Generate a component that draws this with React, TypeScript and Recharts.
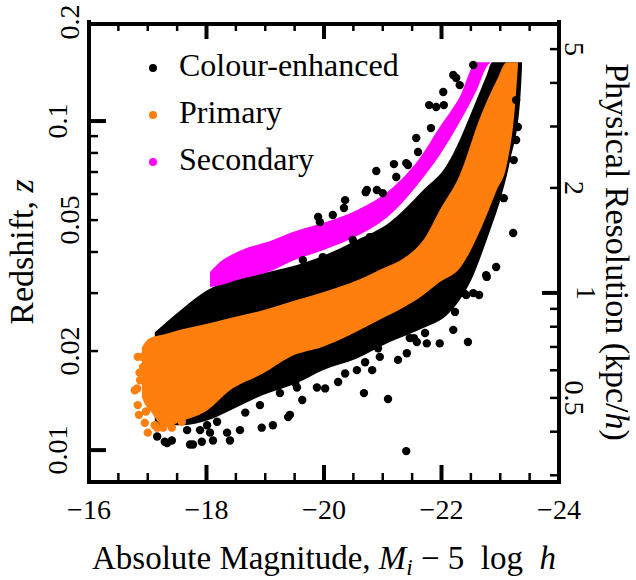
import React from "react";
import { ComposedChart, Area, Scatter, Line, XAxis, YAxis, Legend, Label } from "recharts";

const FONT = '"Liberation Serif", "DejaVu Serif", serif';
const ORANGE = "#ff7f0e";
const MAGENTA = "#ff00ff";
const INK = "#000000";

// absolute magnitude, bright end on the right
const magTicks = [-16, -16.5, -17, -17.5, -18, -18.5, -19, -19.5, -20, -20.5, -21, -21.5, -22, -22.5, -23, -23.5, -24];
const magLabels = [-16, -18, -20, -22, -24];
const magRange = [-16, -24];

// redshift (left, log)
const zTicks = [0.01, 0.02, 0.03, 0.04, 0.05, 0.06, 0.07, 0.08, 0.09, 0.1, 0.2];
const zMajor = [0.01, 0.1];
const zLabels = [0.01, 0.02, 0.05, 0.1, 0.2];
const zRange = [0.008, 0.2];

// physical resolution in kpc/h (right, log)
const resTicks = [0.3, 0.4, 0.5, 0.6, 0.7, 0.8, 0.9, 1, 2, 3, 4, 5];
const resMajor = [1];
const resLabels = [0.5, 1, 2, 5];
const resRange = [0.287, 5.98];

// dense part of each sample: [M, z low, z high]
const colourBand = [
  [-17.12, 0.0119, 0.0228],
  [-17.6, 0.0119, 0.027],
  [-18.01, 0.0123, 0.0306],
  [-18.4, 0.0132, 0.0329],
  [-18.96, 0.0147, 0.0345],
  [-19.54, 0.016, 0.0365],
  [-19.98, 0.0175, 0.0389],
  [-20.56, 0.019, 0.0435],
  [-21.12, 0.0213, 0.0493],
  [-21.69, 0.0235, 0.0617],
  [-22.09, 0.0257, 0.0735],
  [-22.31, 0.0286, 0.0876],
  [-22.49, 0.0324, 0.1043],
  [-22.77, 0.0435, 0.138],
  [-22.86, 0.0483, 0.151],
  [-23.0, 0.0575, 0.151],
  [-23.17, 0.0761, 0.151],
  [-23.34, 0.1158, 0.151],
  [-23.37, 0.145, 0.151],
];

const primaryBand = [
  [-16.9, 0.0145, 0.0205],
  [-16.95, 0.0138, 0.0212],
  [-17.04, 0.0132, 0.0219],
  [-17.29, 0.0117, 0.0225],
  [-17.55, 0.0122, 0.0232],
  [-18.01, 0.0132, 0.0242],
  [-18.4, 0.0152, 0.0252],
  [-18.96, 0.0171, 0.0266],
  [-19.42, 0.0192, 0.0282],
  [-19.98, 0.0206, 0.0302],
  [-20.83, 0.0243, 0.0345],
  [-21.69, 0.0296, 0.0435],
  [-21.97, 0.0324, 0.0536],
  [-22.31, 0.0357, 0.0685],
  [-22.66, 0.0466, 0.1028],
  [-22.94, 0.0617, 0.133],
  [-23.11, 0.0735, 0.151],
  [-23.25, 0.1103, 0.151],
  [-23.3, 0.146, 0.151],
];

const secondaryBand = [
  [-18.06, 0.0313, 0.0348],
  [-18.23, 0.0317, 0.0373],
  [-18.52, 0.0329, 0.04],
  [-19.13, 0.0352, 0.0435],
  [-19.42, 0.0373, 0.0457],
  [-19.98, 0.0405, 0.049],
  [-20.56, 0.0447, 0.0536],
  [-21.12, 0.0518, 0.0617],
  [-21.63, 0.0653, 0.0772],
  [-21.97, 0.0788, 0.0959],
  [-22.31, 0.0993, 0.1183],
  [-22.6, 0.1242, 0.151],
  [-22.79, 0.148, 0.151],
  [-22.83, 0.15, 0.151],
];

// scattered galaxies outside the dense bands: [M, z]
const colourPoints = [
  [-17.16, 0.011], [-17.29, 0.0106], [-17.33, 0.0105], [-17.41, 0.0107], [-17.67, 0.0115],
  [-17.72, 0.0104], [-17.77, 0.0104], [-17.89, 0.0115], [-17.92, 0.0106], [-18.01, 0.0119],
  [-18.06, 0.0113], [-18.11, 0.0107], [-18.18, 0.0122], [-18.35, 0.0113], [-18.4, 0.0107],
  [-18.57, 0.0115], [-18.66, 0.013], [-18.91, 0.0137], [-18.94, 0.0117], [-19.13, 0.0119],
  [-19.25, 0.0149], [-19.39, 0.0126], [-19.42, 0.0128], [-19.51, 0.016], [-19.54, 0.0155],
  [-19.63, 0.0142], [-19.88, 0.0155], [-20.02, 0.0154], [-20.24, 0.0161], [-20.36, 0.0171],
  [-20.56, 0.0175], [-20.68, 0.0149], [-20.7, 0.0185], [-20.82, 0.0175], [-20.92, 0.0204],
  [-20.95, 0.0192], [-21.09, 0.0143], [-21.26, 0.0188], [-21.4, 0.00993], [-21.41, 0.0197],
  [-21.46, 0.0219], [-21.53, 0.0219], [-21.58, 0.0213], [-21.72, 0.0227], [-21.75, 0.0211],
  [-21.92, 0.0261], [-21.97, 0.0211], [-22.2, 0.0232], [-22.23, 0.0263], [-22.38, 0.03],
  [-22.42, 0.0296], [-22.45, 0.0213], [-22.54, 0.03], [-22.64, 0.0296], [-22.76, 0.034],
  [-22.77, 0.0336], [-22.93, 0.036], [-23.06, 0.0583], [-23.22, 0.0457], [-23.23, 0.0761],
  [-23.27, 0.0876], [-23.27, 0.1158], [-23.3, 0.0959],
  [-19.64, 0.0378], [-19.9, 0.0511], [-19.93, 0.0493], [-19.98, 0.0386], [-20.15, 0.0518],
  [-20.27, 0.0386], [-20.34, 0.0544], [-20.36, 0.0575], [-20.49, 0.0435], [-20.56, 0.0414],
  [-20.71, 0.0608], [-20.73, 0.0617], [-20.78, 0.0444], [-20.89, 0.0705], [-20.9, 0.0617],
  [-21.0, 0.0457], [-21.0, 0.0604], [-21.19, 0.074], [-21.23, 0.0676], [-21.29, 0.0493],
  [-21.4, 0.0745], [-21.43, 0.0735], [-21.57, 0.0888], [-21.6, 0.0805], [-21.79, 0.1118],
  [-21.82, 0.0952], [-21.91, 0.1103], [-22.03, 0.1225], [-22.04, 0.1118], [-22.2, 0.138],
  [-22.25, 0.1351], [-22.31, 0.1286], [-22.54, 0.148],
];

const primaryPoints = [
  [-16.78, 0.0152], [-16.82, 0.0154], [-16.83, 0.0137], [-16.83, 0.0192], [-16.87, 0.0163],
  [-16.9, 0.0192], [-16.92, 0.0179], [-16.95, 0.0121], [-16.99, 0.0145], [-17.0, 0.0113],
  [-16.86, 0.0172], [-16.85, 0.0128], [-16.97, 0.0131],
  [-17.12, 0.0119], [-17.16, 0.0117], [-17.26, 0.0117], [-17.41, 0.0117], [-17.58, 0.0122],
];

const legendItems = [
  { name: "Colour-enhanced", color: INK },
  { name: "Primary", color: ORANGE },
  { name: "Secondary", color: MAGENTA },
];

const toRange = (rows: number[][]) => rows.map(([m, lo, hi]) => ({ m, z: [lo, hi] }));
const toPoints = (rows: number[][]) => rows.map(([m, z]) => ({ m, z }));

// anchor points for the inward tick marks, placed on the frame edges
const bottomMarks = magTicks.map((v) => ({ m: v, z: zRange[0], major: magLabels.includes(v) }));
const topMarks = magTicks.map((v) => ({ m: v, z: zRange[1], major: magLabels.includes(v) }));
const leftMarks = zTicks.map((v) => ({ m: magRange[0], z: v, major: zMajor.includes(v) }));
const rightMarks = resTicks.map((v) => ({ m: magRange[1], r: v, major: resMajor.includes(v) }));
const topEdge = magRange.map((m) => ({ m, z: zRange[1] }));

const fmtMag = (v: number) => (v < 0 ? "\u2212" + Math.abs(v) : String(v));

function MagLabel(props: any) {
  const { x, y, payload } = props;
  const v = payload.value;
  if (!magLabels.includes(v)) return <g />;
  return (
    <text x={x} y={y + 37} textAnchor="middle" fontSize={28} fontFamily={FONT} fill={INK}>
      {fmtMag(v)}
    </text>
  );
}

function ZLabel(props: any) {
  const { x, y, payload } = props;
  const v = payload.value;
  if (!zLabels.includes(v)) return <g />;
  const label = String(v);
  const bx = label.includes("1") ? x - 22 : x - 10;
  return (
    <text x={bx} y={y} transform={`rotate(-90, ${bx}, ${y})`} textAnchor="middle" fontSize={28} fontFamily={FONT} fill={INK}>
      {label}
    </text>
  );
}

function ResLabel(props: any) {
  const { x, y, payload } = props;
  const v = payload.value;
  if (!resLabels.includes(v)) return <g />;
  const label = String(v);
  const bx = label === "1" ? x + 18 : x + 6;
  return (
    <text x={bx} y={y} transform={`rotate(90, ${bx}, ${y})`} textAnchor="middle" fontSize={28} fontFamily={FONT} fill={INK}>
      {label}
    </text>
  );
}

// tick mark shapes: dx, dy give the inward direction
const mark = (dx: number, dy: number) => (p: any) => {
  const major = p.payload && p.payload.major;
  const len = major ? 17 : 9;
  return (
    <line
      x1={p.cx}
      y1={p.cy}
      x2={p.cx + dx * len}
      y2={p.cy + dy * len}
      stroke={INK}
      strokeWidth={major ? 4 : 2.5}
    />
  );
};

function XTitle(props: any) {
  const vb = props.viewBox;
  const cx = vb.x + vb.width / 2;
  return (
    <text x={cx} y={vb.y + 87} textAnchor="middle" fontSize={33} fontFamily={FONT} fill={INK} style={{ whiteSpace: "pre" }}>
      Absolute Magnitude, <tspan fontStyle="italic">M</tspan>
      <tspan fontStyle="italic" fontSize={23} dy={6}>i</tspan>
      <tspan dy={-6}>{" \u2212 5  log  "}</tspan>
      <tspan fontStyle="italic">h</tspan>
    </text>
  );
}

function ZTitle(props: any) {
  const vb = props.viewBox;
  const x = vb.x + 33;
  const y = vb.y + vb.height / 2;
  return (
    <text x={x} y={y} transform={`rotate(-90, ${x}, ${y})`} textAnchor="middle" fontSize={34} fontFamily={FONT} fill={INK}>
      Redshift, <tspan fontStyle="italic">z</tspan>
    </text>
  );
}

function ResTitle(props: any) {
  const vb = props.viewBox;
  const x = vb.x + 47;
  const y = vb.y + vb.height / 2;
  return (
    <text x={x} y={y} transform={`rotate(90, ${x}, ${y})`} textAnchor="middle" fontSize={34} fontFamily={FONT} fill={INK}>
      Physical Resolution (kpc/<tspan fontStyle="italic">h</tspan>)
    </text>
  );
}

function LegendBox() {
  return (
    <svg width={300} height={150} style={{ display: "block" }}>
      {legendItems.map((it, i) => (
        <g key={it.name}>
          <circle cx={13} cy={28 + i * 47} r={4} fill={it.color} />
          <text x={39} y={36 + i * 47} fontSize={32} fontFamily={FONT} fill={INK}>
            {it.name}
          </text>
        </g>
      ))}
    </svg>
  );
}

const dot = (color: string) => (p: any) => <circle cx={p.cx} cy={p.cy} r={4.2} fill={color} />;

const frame = { stroke: INK, strokeWidth: 4, strokeLinecap: "square" as const };

export default function App() {
  return (
    <div style={{ position: "absolute", left: 0, top: 0, width: 636, height: 580, background: "#fff" }}>
      <ComposedChart width={636} height={580} margin={{ top: 22, right: 0, bottom: 0, left: 0 }}>
        <XAxis
          xAxisId="mag"
          dataKey="m"
          type="number"
          domain={[-24, -16]}
          reversed
          allowDataOverflow
          ticks={magTicks}
          interval={0}
          height={98}
          tickSize={0}
          tickMargin={0}
          tickLine={false}
          axisLine={frame}
          tick={(p: any) => <MagLabel {...p} />}
        >
          <Label content={(p: any) => <XTitle {...p} />} />
        </XAxis>
        <YAxis
          yAxisId="z"
          dataKey="z"
          type="number"
          scale="log"
          domain={zRange}
          allowDataOverflow
          ticks={zTicks}
          interval={0}
          width={89}
          tickSize={0}
          tickMargin={0}
          tickLine={false}
          axisLine={frame}
          tick={(p: any) => <ZLabel {...p} />}
        >
          <Label content={(p: any) => <ZTitle {...p} />} />
        </YAxis>
        <YAxis
          yAxisId="res"
          orientation="right"
          dataKey="r"
          type="number"
          scale="log"
          domain={resRange}
          allowDataOverflow
          ticks={resTicks}
          interval={0}
          width={77}
          tickSize={0}
          tickMargin={0}
          tickLine={false}
          axisLine={frame}
          tick={(p: any) => <ResLabel {...p} />}
        >
          <Label content={(p: any) => <ResTitle {...p} />} />
        </YAxis>
        <Legend
          layout="vertical"
          align="center"
          verticalAlign="middle"
          wrapperStyle={{ left: 140, top: 40 }}
          content={() => <LegendBox />}
        />
        <Area xAxisId="mag" yAxisId="z" data={toRange(colourBand)} dataKey="z" type="monotone" stroke="none" fill={INK} fillOpacity={1} dot={false} activeDot={false} legendType="none" isAnimationActive={false} />
        <Scatter name="Colour-enhanced" xAxisId="mag" yAxisId="z" data={toPoints(colourPoints)} dataKey="z" fill={INK} shape={dot(INK)} isAnimationActive={false} />
        <Area xAxisId="mag" yAxisId="z" data={toRange(primaryBand)} dataKey="z" type="monotone" stroke="none" fill={ORANGE} fillOpacity={1} dot={false} activeDot={false} legendType="none" isAnimationActive={false} />
        <Scatter name="Primary" xAxisId="mag" yAxisId="z" data={toPoints(primaryPoints)} dataKey="z" fill={ORANGE} shape={dot(ORANGE)} isAnimationActive={false} />
        <Area name="Secondary" xAxisId="mag" yAxisId="z" data={toRange(secondaryBand)} dataKey="z" type="monotone" stroke="none" fill={MAGENTA} fillOpacity={1} dot={false} activeDot={false} isAnimationActive={false} />
        {/* top edge of the frame */}
        <Line xAxisId="mag" yAxisId="z" data={topEdge} dataKey="z" type="linear" stroke={INK} strokeWidth={8} dot={false} activeDot={false} legendType="none" isAnimationActive={false} />
        {/* inward tick marks on all four sides */}
        <Scatter xAxisId="mag" yAxisId="z" data={bottomMarks} dataKey="z" shape={mark(0, -1)} legendType="none" isAnimationActive={false} />
        <Scatter xAxisId="mag" yAxisId="z" data={topMarks} dataKey="z" shape={mark(0, 1)} legendType="none" isAnimationActive={false} />
        <Scatter xAxisId="mag" yAxisId="z" data={leftMarks} dataKey="z" shape={mark(1, 0)} legendType="none" isAnimationActive={false} />
        <Scatter xAxisId="mag" yAxisId="res" data={rightMarks} dataKey="r" shape={mark(-1, 0)} legendType="none" isAnimationActive={false} />
      </ComposedChart>
    </div>
  );
}
